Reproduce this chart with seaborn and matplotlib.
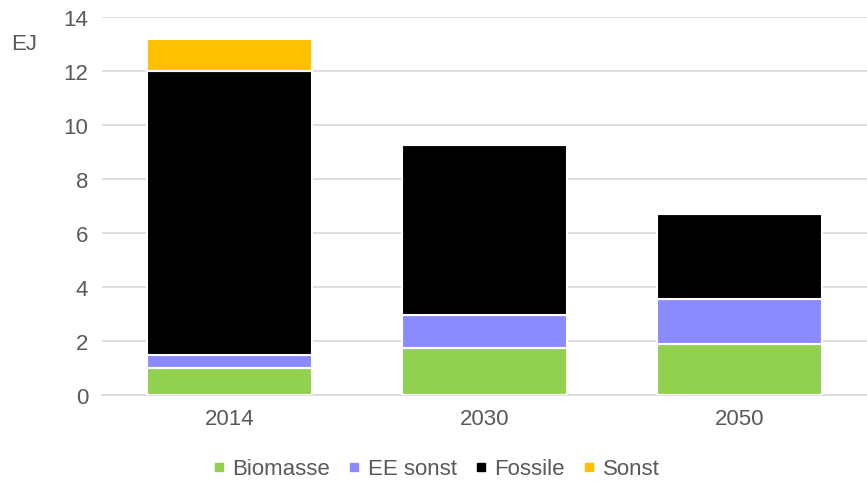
import numpy as np
import pandas as pd
import matplotlib.pyplot as plt
import seaborn as sns
from matplotlib.lines import Line2D

# Daten (EJ)
jahre = ['2014', '2030', '2050']
biomasse = [1.0, 1.75, 1.9]
ee_sonst = [0.5, 1.2, 1.65]
fossile = [10.5, 6.3, 3.15]
sonst = [1.2, 0.0, 0.0]

serien = ['Biomasse', 'EE sonst', 'Fossile', 'Sonst']
farben = ['#92D050', '#8B8BFF', '#000000', '#FFC000']

df = pd.DataFrame({'Jahr': jahre, 'Biomasse': biomasse, 'EE sonst': ee_sonst,
                   'Fossile': fossile, 'Sonst': sonst})

sns.set_style('white')
plt.rcParams['font.family'] = ['Liberation Sans', 'DejaVu Sans']

fig = plt.figure(figsize=(8.67, 4.85), dpi=100)
ax = fig.add_axes([0.1176, 0.1835, 0.8824, 0.7794])

# Gestapelte Balken
unten = np.zeros(len(jahre))
for name, farbe in zip(serien, farben):
    werte = df[name].to_numpy()
    sns.barplot(x=df['Jahr'], y=werte, ax=ax, color=farbe, bottom=unten,
                width=0.65, edgecolor='white', linewidth=1.5, saturation=1,
                zorder=3)
    unten = unten + werte

ax.set_ylim(0, 14)
ax.set_yticks(range(0, 15, 2))
ax.set_xlim(-0.5, 2.477)
ax.yaxis.grid(True, color='#d9d9d9', linewidth=1.2, zorder=0)
ax.set_axisbelow(True)

for s in ['top', 'right', 'left']:
    ax.spines[s].set_visible(False)
ax.spines['bottom'].set_color('#d9d9d9')
ax.spines['bottom'].set_linewidth(1.2)

ax.set_xlabel('')
ax.set_ylabel('')
ax.tick_params(axis='y', length=0, labelsize=16, labelcolor='#595959', pad=10)
ax.tick_params(axis='x', which='major', length=0, labelsize=16,
               labelcolor='#595959', pad=9)
ax.set_xticks([-0.5, 0.5, 1.5, 2.5], minor=True)
ax.tick_params(axis='x', which='minor', length=5, width=1.2, color='#d9d9d9',
               direction='out')

fig.text(0.013, 0.908, 'EJ', fontsize=16, color='#595959', va='center')

# Legende
griffe = [Line2D([], [], marker='s', linestyle='', color=f, markersize=5.5)
          for f in farben]
fig.legend(griffe, serien, loc='center', bbox_to_anchor=(0.5, 0.031), ncol=4,
           frameon=False, fontsize=16, handletextpad=0.1, columnspacing=0.6,
           handlelength=1.0, labelcolor='#595959')

fig.savefig('out.png', dpi=100)
